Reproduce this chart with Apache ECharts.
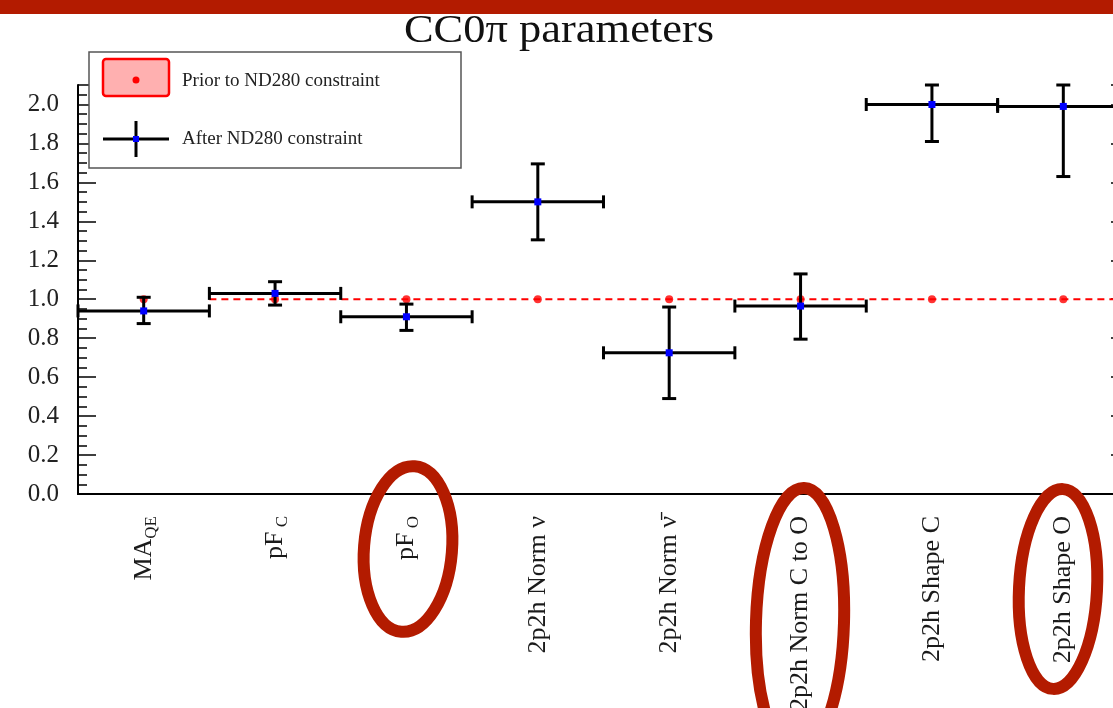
<!DOCTYPE html>
<html>
<head>
<meta charset="utf-8">
<title>CC0π parameters</title>
<script src="https://cdn.jsdelivr.net/npm/echarts@6/dist/echarts.min.js"></script>
<style>
  html, body { margin: 0; padding: 0; background: #fff; overflow: hidden; }
  /* the plot frame runs past the right edge of the picture, so the canvas is wider than the window */
  #chart { width: 1150px; height: 708px; }
</style>
</head>
<body>
<div id="chart"></div>
<script>
// parameter names, "_" marks a subscript
var categories = ["MA_QE", "pF_ C", "pF_ O", "2p2h Norm ν", "2p2h Norm ν\u0304", "2p2h Norm C to O", "2p2h Shape C", "2p2h Shape O"];
// prior values (all nominal)
var priorValues = [1, 1, 1, 1, 1, 1, 1, 1];
// post-fit values and errors
var postValues = [0.94, 1.03, 0.91, 1.50, 0.725, 0.965, 2.00, 1.99];
var postErrUp = [0.07, 0.06, 0.065, 0.195, 0.235, 0.165, 0.10, 0.11];
var postErrDown = [0.065, 0.06, 0.07, 0.195, 0.235, 0.17, 0.19, 0.36];
// prior dashed line runs from this bin edge to the end
var priorLineFrom = 1;

var serif = "Liberation Serif";
var myChart = echarts.init(document.getElementById("chart"));

var postData = [];
for (var i = 0; i < categories.length; i++) {
  postData.push([i, postValues[i], postValues[i] + postErrUp[i], postValues[i] - postErrDown[i]]);
}
var priorData = [];
for (var j = 0; j < categories.length; j++) {
  priorData.push([j, priorValues[j]]);
}

function labelFormatter(name) {
  var parts = name.split("_");
  if (parts.length > 1) {
    return "{n|" + parts[0] + "}{s|" + parts[1] + "}";
  }
  return "{n|" + name + "}";
}

var tickStyle = { color: "#000", width: 1.5 };

var option = {
  animation: false,
  graphic: [
    // red bar over the top, it hides the top of the title
    { type: "rect", z: 310, shape: { x: 0, y: 0, width: 1150, height: 14 }, style: { fill: "#b31b00" } },
    {
      type: "text", z: 300, x: 559, y: 32, scaleX: 1.14,
      style: { text: "CC0π parameters", font: "39px " + serif, fill: "#111", textAlign: "center", textVerticalAlign: "middle" }
    },
    // legend
    { type: "rect", z: 100, shape: { x: 89, y: 52, width: 372, height: 116 }, style: { fill: "#fff", stroke: "#555", lineWidth: 1.5 } },
    { type: "rect", z: 101, shape: { x: 103, y: 59, width: 66, height: 37, r: 3 }, style: { fill: "#ffb0b0", stroke: "#ff0000", lineWidth: 2.5 } },
    { type: "circle", z: 102, shape: { cx: 136, cy: 80, r: 3.5 }, style: { fill: "#ff0000" } },
    { type: "text", z: 101, x: 182, y: 81, style: { text: "Prior to ND280 constraint", font: "19px " + serif, fill: "#222", textVerticalAlign: "middle" } },
    { type: "line", z: 101, shape: { x1: 103, y1: 139, x2: 169, y2: 139 }, style: { stroke: "#000", lineWidth: 3 } },
    { type: "line", z: 101, shape: { x1: 136, y1: 121, x2: 136, y2: 157 }, style: { stroke: "#000", lineWidth: 3 } },
    { type: "rect", z: 102, shape: { x: 133, y: 136, width: 6, height: 6 }, style: { fill: "#0000ff" } },
    { type: "text", z: 101, x: 182, y: 139, style: { text: "After ND280 constraint", font: "19px " + serif, fill: "#222", textVerticalAlign: "middle" } },
    // red annotation ellipses
    { type: "ellipse", z: 200, x: 408, y: 549, rotation: -0.08, shape: { cx: 0, cy: 0, rx: 44, ry: 83 }, style: { fill: null, stroke: "#b31b00", lineWidth: 12 } },
    { type: "ellipse", z: 200, x: 800, y: 622, rotation: -0.03, shape: { cx: 0, cy: 0, rx: 44, ry: 134 }, style: { fill: null, stroke: "#b31b00", lineWidth: 12 } },
    { type: "ellipse", z: 200, x: 1058, y: 589, rotation: -0.05, shape: { cx: 0, cy: 0, rx: 39, ry: 100 }, style: { fill: null, stroke: "#b31b00", lineWidth: 12 } }
  ],
  grid: { left: 78, top: 85, width: 1051, height: 409, containLabel: false, outerBoundsMode: "none" },
  xAxis: [
    {
      type: "category",
      position: "bottom",
      data: categories,
      boundaryGap: true,
      axisLine: { lineStyle: { color: "#000", width: 2 } },
      axisTick: { inside: true, length: 16, interval: 0, lineStyle: tickStyle },
      axisLabel: {
        interval: 0,
        rotate: 90,
        margin: 22,
        color: "#1a1a1a",
        formatter: labelFormatter,
        rich: {
          n: { fontFamily: serif, fontSize: 26, lineHeight: 32, color: "#1a1a1a" },
          s: { fontFamily: serif, fontSize: 17, lineHeight: 17, verticalAlign: "bottom", color: "#1a1a1a" }
        }
      },
      splitLine: { show: false }
    },
    {
      type: "category",
      position: "top",
      data: categories,
      boundaryGap: true,
      axisLine: { lineStyle: { color: "#000", width: 2 } },
      axisTick: { inside: true, length: 16, interval: 0, lineStyle: tickStyle },
      axisLabel: { show: false },
      splitLine: { show: false }
    },
    { type: "value", min: 0, max: categories.length, show: false }
  ],
  yAxis: [
    {
      type: "value",
      position: "left",
      min: 0,
      max: 2.1,
      interval: 0.2,
      axisLine: { show: true, lineStyle: { color: "#000", width: 2 } },
      axisTick: { show: true, inside: true, length: 18, lineStyle: tickStyle },
      minorTick: { show: true, splitNumber: 4, length: 9, lineStyle: tickStyle },
      axisLabel: {
        showMaxLabel: false,
        margin: 19,
        fontFamily: serif,
        fontSize: 25,
        color: "#222",
        formatter: function (v) { return v.toFixed(1); }
      },
      splitLine: { show: false }
    },
    {
      type: "value",
      position: "right",
      min: 0,
      max: 2.1,
      interval: 0.2,
      axisLine: { show: true, lineStyle: { color: "#000", width: 2 } },
      axisTick: { show: true, inside: true, length: 18, lineStyle: tickStyle },
      minorTick: { show: true, splitNumber: 4, length: 9, lineStyle: tickStyle },
      axisLabel: { show: false },
      splitLine: { show: false }
    }
  ],
  series: [
    {
      name: "Prior to ND280 constraint line",
      type: "line",
      xAxisIndex: 2,
      yAxisIndex: 0,
      symbol: "none",
      z: 2,
      lineStyle: { color: "#ff0000", width: 2, type: [7, 5] },
      data: [[priorLineFrom, priorValues[priorLineFrom]], [categories.length, priorValues[categories.length - 1]]]
    },
    {
      name: "Prior to ND280 constraint",
      type: "scatter",
      xAxisIndex: 0,
      yAxisIndex: 0,
      symbol: "circle",
      symbolSize: 8,
      z: 3,
      itemStyle: { color: "#ff0000" },
      data: priorData
    },
    {
      name: "After ND280 constraint",
      type: "custom",
      xAxisIndex: 0,
      yAxisIndex: 0,
      z: 5,
      data: postData,
      renderItem: function (params, api) {
        var idx = api.value(0);
        var c = api.coord([idx, api.value(1)]);
        var hi = api.coord([idx, api.value(2)]);
        var lo = api.coord([idx, api.value(3)]);
        var w = api.size([1, 0])[0];
        var x0 = c[0] - w / 2;
        var x1 = c[0] + w / 2;
        var capW = 7;
        var capH = 6.5;
        var st = { stroke: "#000", lineWidth: 3 };
        return {
          type: "group",
          children: [
            { type: "line", shape: { x1: x0, y1: c[1], x2: x1, y2: c[1] }, style: st },
            { type: "line", shape: { x1: x0, y1: c[1] - capH, x2: x0, y2: c[1] + capH }, style: st },
            { type: "line", shape: { x1: x1, y1: c[1] - capH, x2: x1, y2: c[1] + capH }, style: st },
            { type: "line", shape: { x1: c[0], y1: hi[1], x2: c[0], y2: lo[1] }, style: st },
            { type: "line", shape: { x1: c[0] - capW, y1: hi[1], x2: c[0] + capW, y2: hi[1] }, style: st },
            { type: "line", shape: { x1: c[0] - capW, y1: lo[1], x2: c[0] + capW, y2: lo[1] }, style: st },
            { type: "rect", shape: { x: c[0] - 3.5, y: c[1] - 3.5, width: 7, height: 7 }, style: { fill: "#0000ff" } }
          ]
        };
      }
    }
  ]
};
myChart.setOption(option);
</script>
</body>
</html>
